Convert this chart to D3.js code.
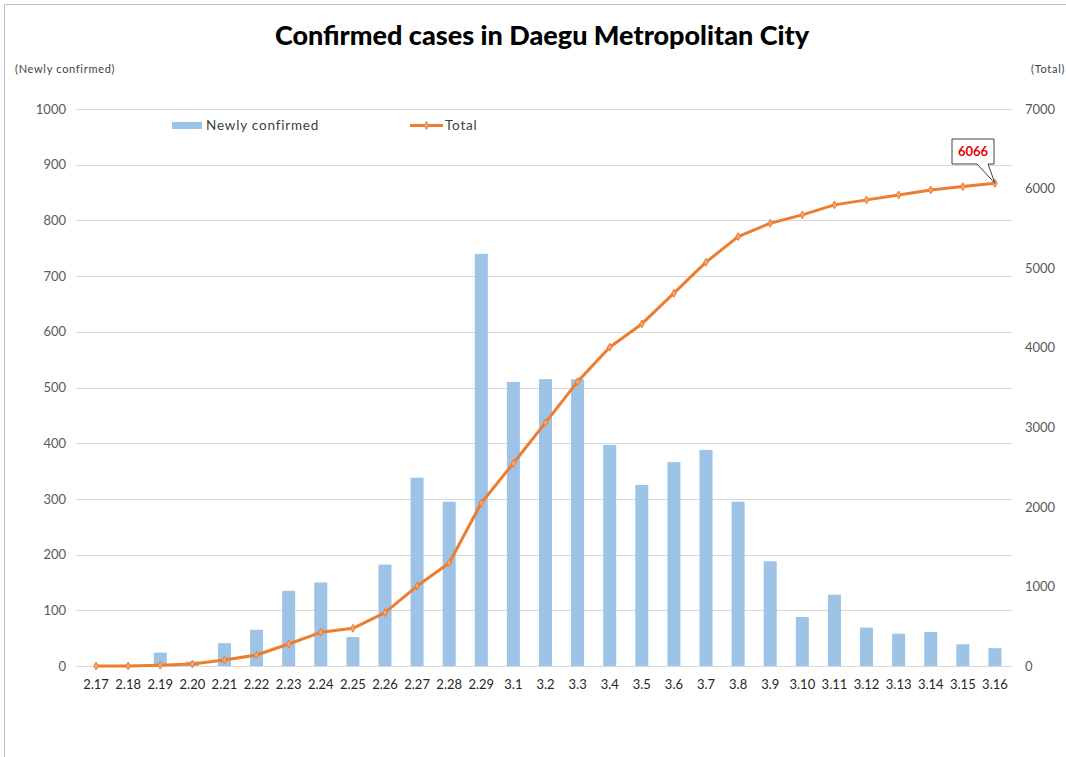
<!DOCTYPE html>
<html>
<head>
<meta charset="utf-8">
<script src="https://cdn.jsdelivr.net/npm/d3@7"></script>
<style>
  body { margin: 0; background: #fff; overflow: hidden; }
  svg { display: block; font-family: Lato, "Open Sans", sans-serif; }
</style>
</head>
<body>
<svg id="chart" width="1066" height="757"></svg>
<script>
// dates along x axis
const dates = ['2.17','2.18','2.19','2.20','2.21','2.22','2.23','2.24','2.25','2.26','2.27','2.28','2.29',
  '3.1','3.2','3.3','3.4','3.5','3.6','3.7','3.8','3.9','3.10','3.11','3.12','3.13','3.14','3.15','3.16'];

// newly confirmed per day (left axis)
const newlyConfirmed = [0, 0, 24, 8, 41, 65, 135, 150, 52, 182, 338, 295, 740,
  510, 515, 515, 397, 325, 366, 388, 295, 188, 88, 128, 69, 58, 61, 39, 32];

// cumulative total (right axis)
const totalCases = [0, 1, 10, 25, 75, 138, 276, 423, 474, 670, 1005, 1295, 2049,
  2548, 3058, 3574, 4006, 4299, 4685, 5075, 5397, 5565, 5669, 5795, 5858, 5920, 5983, 6025, 6066];

const leftTicks = [0, 100, 200, 300, 400, 500, 600, 700, 800, 900, 1000];
const rightTicks = [0, 1000, 2000, 3000, 4000, 5000, 6000, 7000];

const svg = d3.select('#chart');

const x = d3.scaleBand().domain(dates).range([80, 1011]).padding(0);
const yL = d3.scaleLinear().domain([0, 1000]).range([666, 109]);
const yR = d3.scaleLinear().domain([0, 7000]).range([666, 109]);

// outer frame (only top and left edges are visible in the crop)
svg.append('path')
  .attr('d', 'M4.5,757 V4.5 H1066')
  .attr('fill', 'none').attr('stroke', '#bfbfbf');

// title
svg.append('text')
  .attr('x', 542).attr('y', 45)
  .attr('text-anchor', 'middle')
  .attr('font-size', 27).attr('font-weight', 900)
  .attr('fill', '#000')
  .text('Confirmed cases in Daegu Metropolitan City');

// axis captions
svg.append('text')
  .attr('x', 15).attr('y', 73)
  .attr('font-size', 11).attr('fill', '#404040')
  .attr('letter-spacing', 0.7)
  .text('(Newly confirmed)');
svg.append('text')
  .attr('x', 1031).attr('y', 73)
  .attr('font-size', 11).attr('fill', '#404040')
  .attr('letter-spacing', 0.7)
  .text('(Total)');

// gridlines
svg.append('g')
  .selectAll('line')
  .data(leftTicks)
  .enter()
  .append('line')
  .attr('x1', 76).attr('x2', 1012)
  .attr('y1', d => Math.round(yL(d)) + 0.5)
  .attr('y2', d => Math.round(yL(d)) + 0.5)
  .attr('stroke', '#d9d9d9');

// left axis
const leftAxis = svg.append('g')
  .attr('transform', 'translate(72,0)')
  .call(d3.axisLeft(yL).tickValues(leftTicks).tickFormat(d3.format('d')).tickSize(0).tickPadding(6));
leftAxis.select('.domain').remove();
leftAxis.selectAll('text').attr('font-size', 13).attr('fill', '#595959').attr('font-family', 'Lato, sans-serif');

// right axis
const rightAxis = svg.append('g')
  .attr('transform', 'translate(1014,0)')
  .call(d3.axisRight(yR).tickValues(rightTicks).tickFormat(d3.format('d')).tickSize(0).tickPadding(11));
rightAxis.select('.domain').remove();
rightAxis.selectAll('text').attr('font-size', 13).attr('fill', '#595959').attr('font-family', 'Lato, sans-serif');

// x axis
const xAxis = svg.append('g')
  .attr('transform', 'translate(0,666)')
  .call(d3.axisBottom(x).tickSize(0).tickPadding(14));
xAxis.select('.domain').remove();
xAxis.selectAll('text').attr('font-size', 13).attr('fill', '#262626').attr('font-family', 'Lato, sans-serif');

// bars
const barW = 13;
svg.append('g')
  .selectAll('rect')
  .data(newlyConfirmed)
  .enter()
  .append('rect')
  .attr('x', (d, i) => x(dates[i]) + x.bandwidth() / 2 - barW / 2)
  .attr('y', d => yL(d))
  .attr('width', barW)
  .attr('height', d => yL(0) - yL(d))
  .attr('fill', '#9dc3e6');

// total line
const line = d3.line()
  .x((d, i) => x(dates[i]) + x.bandwidth() / 2)
  .y(d => yR(d));

svg.append('path')
  .datum(totalCases)
  .attr('d', line)
  .attr('fill', 'none')
  .attr('stroke', '#ed7d31')
  .attr('stroke-width', 3)
  .attr('stroke-linejoin', 'round');

const diamond = d3.symbol().type(d3.symbolDiamond).size(18);
svg.append('g')
  .selectAll('path')
  .data(totalCases)
  .enter()
  .append('path')
  .attr('d', diamond)
  .attr('transform', (d, i) => `translate(${x(dates[i]) + x.bandwidth() / 2},${yR(d)})`)
  .attr('fill', '#f4a66f')
  .attr('stroke', '#ed7d31')
  .attr('stroke-width', 1);

// legend
svg.append('rect')
  .attr('x', 172).attr('y', 122)
  .attr('width', 30).attr('height', 7)
  .attr('fill', '#9dc3e6');
svg.append('text')
  .attr('x', 206).attr('y', 130)
  .attr('font-size', 13.5).attr('fill', '#404040')
  .attr('letter-spacing', 0.8)
  .text('Newly confirmed');
svg.append('line')
  .attr('x1', 410).attr('x2', 443)
  .attr('y1', 125.5).attr('y2', 125.5)
  .attr('stroke', '#ed7d31').attr('stroke-width', 3);
svg.append('path')
  .attr('d', diamond)
  .attr('transform', 'translate(426.5,125.5)')
  .attr('fill', '#f4a66f').attr('stroke', '#ed7d31');
svg.append('text')
  .attr('x', 445).attr('y', 130)
  .attr('font-size', 13.5).attr('fill', '#404040')
  .attr('letter-spacing', 0.8)
  .text('Total');

// callout for last value
const lastI = totalCases.length - 1;
const px = x(dates[lastI]) + x.bandwidth() / 2;
const py = yR(totalCases[lastI]);
const box = { x: 952, y: 139, w: 42, h: 25 };
svg.append('path')
  .attr('d', `M${box.x},${box.y} H${box.x + box.w} V${box.y + box.h} H${box.x + 36} L${px},${py} L${box.x + 25},${box.y + box.h} H${box.x} Z`)
  .attr('fill', '#fff')
  .attr('stroke', '#404040')
  .attr('stroke-width', 1);
svg.append('text')
  .attr('x', box.x + box.w / 2).attr('y', box.y + 17)
  .attr('text-anchor', 'middle')
  .attr('font-size', 13).attr('font-weight', 'bold')
  .attr('fill', '#e00000')
  .text(d3.format('d')(totalCases[lastI]));
</script>
</body>
</html>
